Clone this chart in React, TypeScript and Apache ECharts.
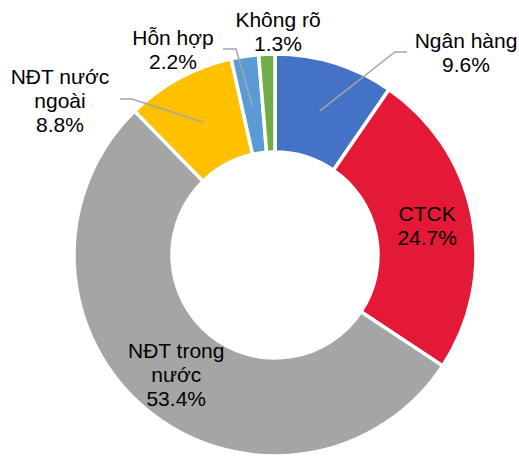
import React, { useEffect, useRef } from "react";
import * as echarts from "echarts";

const categories = ["Ngân hàng", "CTCK", "NĐT trong nước", "NĐT nước ngoài", "Hỗn hợp", "Không rõ"];
const labelTexts = ["Ngân hàng", "CTCK", "NĐT trong\nnước", "NĐT nước\nngoài", "Hỗn hợp", "Không rõ"];
const values = [9.6, 24.7, 53.4, 8.8, 2.2, 1.3];
const colors = ["#4472C4", "#E31937", "#A5A5A5", "#FFC000", "#5B9BD5", "#70AD47"];
const insideLabel = [false, true, true, false, false, false];

// label layout (positions of outside label blocks and leader bends)
const CX = 275;
const CY = 255;
const MID_R = 151;
const outsideLayout: Record<number, { x: number; y: number; bend?: number[]; end?: number[] }> = {
  0: { x: 466, y: 52, bend: [395, 52], end: [407, 52] },
  3: { x: 60, y: 100, bend: [132, 99], end: [120, 99] },
  4: { x: 173, y: 49, bend: [236, 49], end: [223, 49] },
  5: { x: 278, y: 31 },
};

function midPoint(i: number): number[] {
  const total = values.reduce((a, b) => a + b, 0);
  let before = 0;
  for (let k = 0; k < i; k++) before += values[k];
  const frac = (before + values[i] / 2) / total;
  const theta = Math.PI / 2 - frac * Math.PI * 2;
  return [CX + MID_R * Math.cos(theta), CY - MID_R * Math.sin(theta)];
}

export default function App() {
  const ref = useRef<HTMLDivElement>(null);
  useEffect(() => {
    if (!ref.current) return;
    const chart = echarts.init(ref.current, undefined, { renderer: "svg" });
    const leaders = Object.keys(outsideLayout)
      .map(Number)
      .filter((i) => outsideLayout[i].bend)
      .map((i) => ({
        type: "polyline",
        z: 100,
        shape: { points: [midPoint(i), outsideLayout[i].bend, outsideLayout[i].end] },
        style: { stroke: "#A5A5A5", lineWidth: 1.5, fill: null },
        silent: true,
      }));
    chart.setOption({
      animation: false,
      backgroundColor: "#ffffff",
      graphic: leaders,
      series: [
        {
          type: "pie",
          center: [CX, CY],
          radius: [103, 201],
          startAngle: 90,
          clockwise: true,
          avoidLabelOverlap: false,
          itemStyle: { borderColor: "#ffffff", borderWidth: 3.5 },
          label: {
            show: true,
            color: "#000000",
            fontFamily: "Liberation Sans, Arial, sans-serif",
            fontSize: 21,
            lineHeight: 24,
            align: "center",
            formatter: (p: any) => `${labelTexts[p.dataIndex]}\n${values[p.dataIndex].toFixed(1)}%`,
          },
          labelLine: { show: false },
          labelLayout: (params: any) => {
            const spec = outsideLayout[params.dataIndex];
            if (!spec) return {};
            return { x: spec.x, y: spec.y, align: "center", verticalAlign: "middle" };
          },
          data: categories.map((name, i) => ({
            name,
            value: values[i],
            itemStyle: { color: colors[i] },
            label: { position: insideLabel[i] ? "inside" : "outside" },
          })),
        },
      ],
    });
    return () => chart.dispose();
  }, []);
  return (
    <div
      ref={ref}
      style={{ position: "fixed", left: 0, top: 0, width: 519, height: 457 }}
    />
  );
}
